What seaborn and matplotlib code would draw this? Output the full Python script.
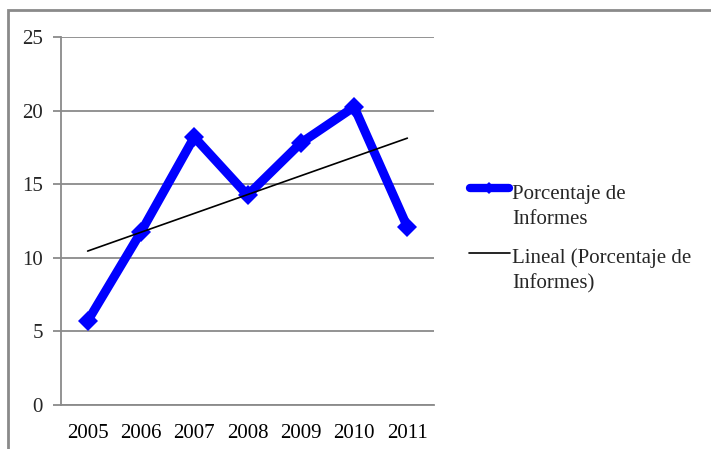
import numpy as np
import pandas as pd
import matplotlib
matplotlib.use("Agg")
import matplotlib.pyplot as plt
import seaborn as sns
from matplotlib.lines import Line2D
from matplotlib.patches import Rectangle

# Data
years = ["2005", "2006", "2007", "2008", "2009", "2010", "2011"]
porcentaje = [5.7, 11.75, 18.2, 14.25, 17.8, 20.25, 12.1]
y_ticks = [0, 5, 10, 15, 20, 25]
serie_label = ["Porcentaje de", "Informes"]
trend_label = ["Lineal (Porcentaje de", "Informes)"]

sns.set_theme(style="white")
plt.rcParams["font.family"] = ["Liberation Serif", "DejaVu Serif"]

W, H = 711, 449
grid_grey = "#8a8a8a"
blue = "#0000ff"
fs = 15

fig = plt.figure(figsize=(W / 100, H / 100), dpi=100)
ax = fig.add_axes([61 / W, 1 - 405 / H, (434 - 61) / W, (405 - 37) / H])

pos = np.arange(len(years))
df = pd.DataFrame({"pos": pos, "valor": porcentaje})

# Linear trend fitted to the series
slope, intercept = np.polyfit(pos, porcentaje, 1)
df["tendencia"] = intercept + slope * pos

for y in y_ticks:
    ax.axhline(y, color=grid_grey, lw=1.3, zorder=0)

sns.lineplot(data=df, x="pos", y="valor", ax=ax, color=blue, lw=6.5,
             marker="D", markersize=10.5, markeredgewidth=0,
             solid_joinstyle="miter", zorder=3, legend=False)
sns.lineplot(data=df, x="pos", y="tendencia", ax=ax, color="black",
             lw=1.2, zorder=4, legend=False)

ax.set_xlim(-0.5, len(years) - 0.5)
ax.set_ylim(0, 25)
ax.set_yticks(y_ticks)
ax.set_yticklabels([str(v) for v in y_ticks], fontsize=fs)
ax.set_xticks(pos)
ax.set_xticklabels(years, fontsize=fs)
ax.set_xticks(np.arange(-0.5, len(years)), minor=True)
ax.tick_params(axis="x", which="major", length=0, pad=13.5, colors="black")
ax.tick_params(axis="x", which="minor", length=7, width=1.3, color=grid_grey)
ax.tick_params(axis="y", length=6, width=1.3, color=grid_grey, pad=7,
               left=True)
ax.set_xlabel("")
ax.set_ylabel("")

for side in ["top", "right"]:
    ax.spines[side].set_visible(False)
for side in ["left", "bottom"]:
    ax.spines[side].set_color(grid_grey)
    ax.spines[side].set_linewidth(1.3)


def fx(px):
    return px / W


def fy(px):
    return 1 - px / H


# Legend: handle beside the first line of each two-line label
fig.add_artist(Line2D([fx(470), fx(509)], [fy(188), fy(188)], color=blue,
                      lw=6, solid_capstyle="round",
                      transform=fig.transFigure))
fig.add_artist(Line2D([fx(489.5)], [fy(188)], color=blue, marker="D",
                      markersize=6, markeredgewidth=0, lw=0,
                      transform=fig.transFigure))
fig.add_artist(Line2D([fx(469), fx(510)], [fy(253), fy(253)],
                      color="black", lw=1.2, transform=fig.transFigure))

for (l1, l2), base in [(serie_label, 199), (trend_label, 263)]:
    fig.text(fx(512), fy(base), l1, fontsize=fs, va="baseline", ha="left")
    fig.text(fx(512), fy(base + 25), l2, fontsize=fs, va="baseline",
             ha="left")

# Outer chart frame
fig.add_artist(Rectangle((fx(7.5), -0.1), 1.2, fy(10.5) + 0.1,
                         transform=fig.transFigure, fill=False,
                         edgecolor=grid_grey, lw=2, clip_on=False))

fig.savefig("out.png", dpi=100)
